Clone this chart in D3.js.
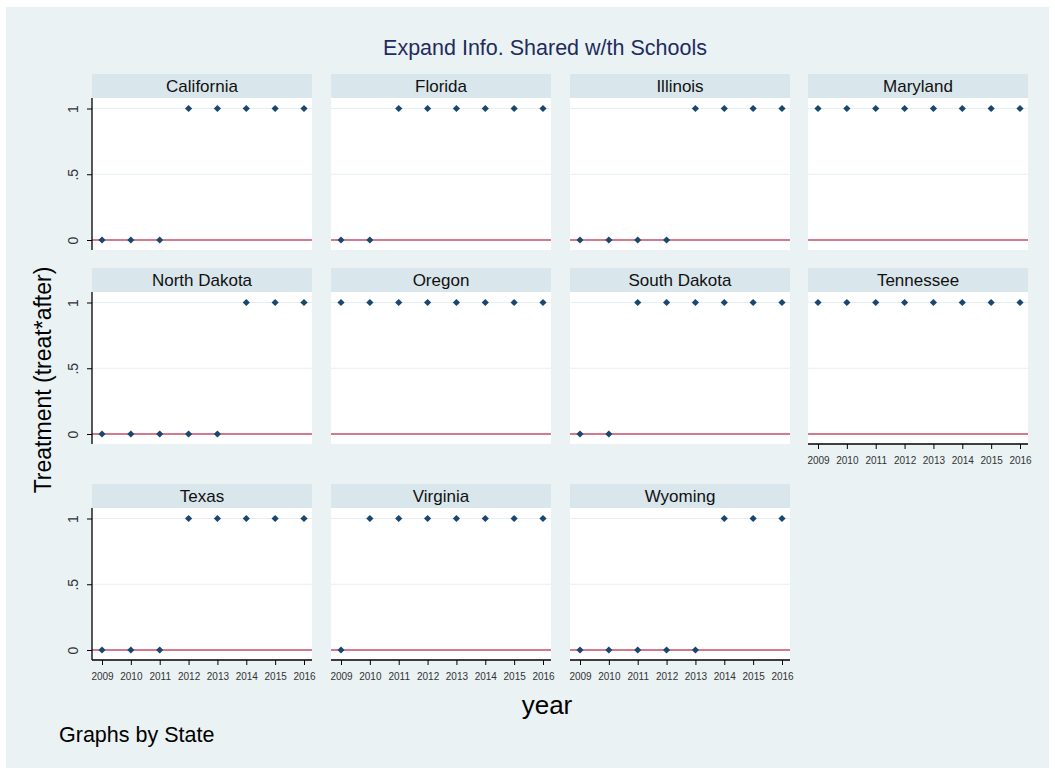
<!DOCTYPE html>
<html>
<head>
<meta charset="utf-8">
<script src="https://cdn.jsdelivr.net/npm/d3@7"></script>
<style>
  html, body { margin: 0; padding: 0; background: #ffffff; }
  svg { display: block; font-family: "Liberation Sans", Arial, sans-serif; }
</style>
</head>
<body>
<svg id="chart" width="1055" height="774"></svg>
<script>
// Panel order (by state) and the years on the x axis
const states = ["California", "Florida", "Illinois", "Maryland",
                "North Dakota", "Oregon", "South Dakota", "Tennessee",
                "Texas", "Virginia", "Wyoming"];
const years = [2009, 2010, 2011, 2012, 2013, 2014, 2015, 2016];

// Treatment indicator (treat*after) per state, one value per year
const california  = [0, 0, 0, 1, 1, 1, 1, 1];
const florida     = [0, 0, 1, 1, 1, 1, 1, 1];
const illinois    = [0, 0, 0, 0, 1, 1, 1, 1];
const maryland    = [1, 1, 1, 1, 1, 1, 1, 1];
const northDakota = [0, 0, 0, 0, 0, 1, 1, 1];
const oregon      = [1, 1, 1, 1, 1, 1, 1, 1];
const southDakota = [0, 0, 1, 1, 1, 1, 1, 1];
const tennessee   = [1, 1, 1, 1, 1, 1, 1, 1];
const texas       = [0, 0, 0, 1, 1, 1, 1, 1];
const virginia    = [0, 1, 1, 1, 1, 1, 1, 1];
const wyoming     = [0, 0, 0, 0, 0, 1, 1, 1];

const yTicks = [0, 0.5, 1];
const yTickLabels = ["0", ".5", "1"];
const referenceLine = 0;

const seriesByState = [california, florida, illinois, maryland,
                       northDakota, oregon, southDakota, tennessee,
                       texas, virginia, wyoming];

const svg = d3.select("#chart");

// Graph region background
svg.append("rect")
  .attr("x", 6).attr("y", 7).attr("width", 1043).attr("height", 761)
  .attr("fill", "#eaf2f3");

// Title
svg.append("text")
  .attr("x", 545).attr("y", 55)
  .attr("text-anchor", "middle")
  .attr("font-size", 21.5)
  .attr("fill", "#1f2c5c")
  .text("Expand Info. Shared w/th Schools");

// Grid geometry
const nCols = 4;
const colX = [92, 331, 570, 808];
const panelW = 220;
const headerH = 24;
const plotH = 152;
const rowTop = [74, 268, 484];

const x = d3.scaleLinear().domain([2009, 2016]).range([10, panelW - 8]);
const y = d3.scaleLinear().domain([0, 1]).range([plotH - 10, 10.5]);

// a panel gets an x axis when no panel sits below it
function hasPanelBelow(i) { return i + nCols < states.length; }

// small diamond marker: a square turned by 45 degrees
const marker = d3.symbol().type(d3.symbolSquare).size(26);

states.forEach((name, i) => {
  const col = i % nCols, row = Math.floor(i / nCols);
  const g = svg.append("g")
    .attr("transform", `translate(${colX[col]},${rowTop[row]})`);

  // strip header
  g.append("rect")
    .attr("width", panelW).attr("height", headerH)
    .attr("fill", "#d9e6eb");
  g.append("text")
    .attr("x", panelW / 2).attr("y", headerH / 2 + 5.8)
    .attr("text-anchor", "middle")
    .attr("font-size", 17)
    .attr("fill", "#111")
    .text(name);

  const p = g.append("g").attr("transform", `translate(0,${headerH})`);
  p.append("rect")
    .attr("width", panelW).attr("height", plotH)
    .attr("fill", "#ffffff");

  // horizontal grid lines
  p.selectAll("line.grid").data(yTicks).join("line")
    .attr("class", "grid")
    .attr("x1", 0).attr("x2", panelW)
    .attr("y1", d => y(d)).attr("y2", d => y(d))
    .attr("stroke", "#e6eff1").attr("stroke-width", 1.2);

  // reference line at zero
  p.append("line")
    .attr("x1", 0).attr("x2", panelW)
    .attr("y1", y(referenceLine)).attr("y2", y(referenceLine))
    .attr("stroke", "#d57a8c").attr("stroke-width", 2);

  // y axis on the first column
  if (col === 0) {
    const ya = p.append("g")
      .call(d3.axisLeft(y).tickValues(yTicks).tickSize(5)
        .tickFormat((d, k) => yTickLabels[k]));
    ya.select(".domain").attr("stroke", "#000").attr("stroke-width", 1.3)
      .attr("d", `M0,0V${plotH}`);
    ya.selectAll(".tick line").attr("stroke", "#000");
    ya.selectAll(".tick text")
      .attr("font-family", "Liberation Sans, Arial, sans-serif")
      .attr("font-size", 14).attr("fill", "#333")
      .attr("text-anchor", "middle")
      .attr("x", null).attr("dy", null)
      .attr("transform", "translate(-18,0) rotate(-90)")
      .attr("y", 4);
  }

  // x axis on panels at the bottom of each column
  if (!hasPanelBelow(i)) {
    const xa = p.append("g")
      .attr("transform", `translate(0,${plotH})`)
      .call(d3.axisBottom(x).tickValues(years).tickSize(5).tickFormat(d3.format("d")));
    xa.select(".domain").attr("stroke", "#000").attr("stroke-width", 1.3)
      .attr("d", `M0,0H${panelW}`);
    xa.selectAll(".tick line").attr("stroke", "#000");
    xa.selectAll(".tick text")
      .attr("font-family", "Liberation Sans, Arial, sans-serif")
      .attr("font-size", 10).attr("fill", "#333")
      .attr("y", 13);
  }

  // markers
  const pts = years.map((yr, k) => ({ year: yr, value: seriesByState[i][k] }));
  p.selectAll("path.pt").data(pts).join("path")
    .attr("class", "pt")
    .attr("d", marker)
    .attr("transform", d => `translate(${x(d.year)},${y(d.value)}) rotate(45)`)
    .attr("fill", "#1a476f");
});

// Axis titles and note
svg.append("text")
  .attr("transform", "translate(51,380) rotate(-90)")
  .attr("text-anchor", "middle")
  .attr("font-size", 23)
  .attr("fill", "#000")
  .text("Treatment (treat*after)");

svg.append("text")
  .attr("x", 547).attr("y", 714)
  .attr("text-anchor", "middle")
  .attr("font-size", 26)
  .attr("fill", "#000")
  .text("year");

svg.append("text")
  .attr("x", 59).attr("y", 742)
  .attr("font-size", 21.5)
  .attr("fill", "#000")
  .text("Graphs by State");
</script>
</body>
</html>
